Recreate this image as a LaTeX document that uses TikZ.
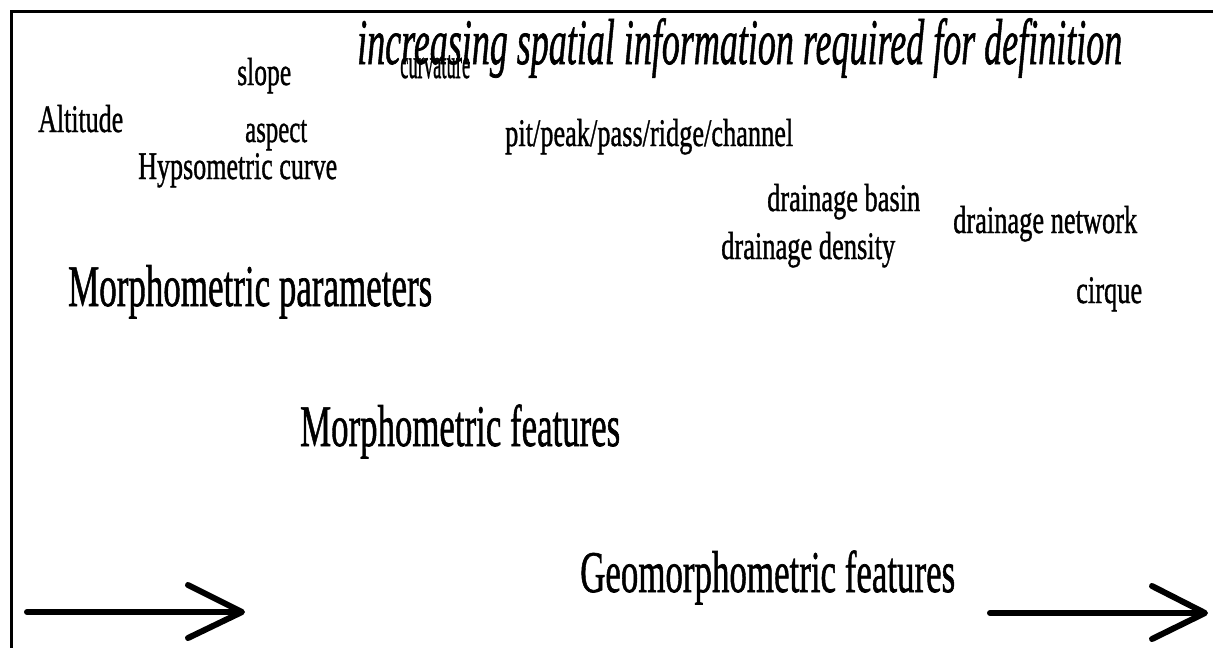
\documentclass[tikz,border=0pt]{standalone}
\usepackage{fontspec}
\setmainfont{Liberation Serif}[FakeBold=1.2]
\usepackage{graphicx}
\newcommand{\fitw}[2]{\resizebox{#1pt}{\height}{#2}}
\tikzset{
  lbl/.style={inner sep=0pt, anchor=base west, font=\fontsize{39}{39}\selectfont},
  big/.style={inner sep=0pt, anchor=base west, font=\fontsize{59}{59}\selectfont},
  ttl/.style={inner sep=0pt, anchor=base west, font=\itshape\fontsize{65}{65}\selectfont},
  frame/.style={line width=3pt},
  bigarrow/.style={line width=6pt, line cap=round, line join=round},
}
\begin{document}
\begin{tikzpicture}[x=1pt,y=1pt]
\useasboundingbox (0,0) rectangle (1213,-648);
\draw[frame] (11.5,-648) -- (11.5,-11) -- (1213,-11);
% title
\node[ttl] (title) at (357,-64) {\fitw{765}{increasing spatial information required for definition}};
% small labels
\node[lbl, font=\fontsize{43}{43}\selectfont] (curv) at (400,-78) {\fitw{70}{curvature}};
\node[lbl] (slope) at (237,-85) {\fitw{54}{slope}};
\node[lbl] (alt) at (38,-132) {\fitw{85}{Altitude}};
\node[lbl] (aspect) at (245,-142) {\fitw{62}{aspect}};
\node[lbl] (hyps) at (138,-179) {\fitw{199}{Hypsometric curve}};
\node[lbl] (pit) at (505,-146) {\fitw{288}{pit/peak/pass/ridge/channel}};
\node[lbl] (basin) at (767,-211) {\fitw{153}{drainage basin}};
\node[lbl] (network) at (953,-233) {\fitw{184}{drainage network}};
\node[lbl] (density) at (721,-259) {\fitw{174}{drainage density}};
\node[lbl] (cirque) at (1076,-303) {\fitw{66}{cirque}};
% big labels
\node[big] (mparam) at (68,-306) {\fitw{364}{Morphometric parameters}};
\node[big] (mfeat) at (300,-446) {\fitw{320}{Morphometric features}};
\node[big] (gfeat) at (580,-592) {\fitw{375}{Geomorphometric features}};
% arrows
\coordinate (la0) at (27,-612);
\coordinate (la1) at (240,-612);
\coordinate (lat) at (188,-585);
\coordinate (lab) at (188,-638);
\coordinate (lah) at (242,-612);
\draw[bigarrow] (la0) -- (la1);
\draw[bigarrow] (lat) -- (lah) -- (lab);
\coordinate (ra0) at (990,-613);
\coordinate (ra1) at (1203,-613);
\coordinate (rat) at (1152,-586);
\coordinate (rab) at (1152,-639);
\coordinate (rah) at (1205,-613);
\draw[bigarrow] (ra0) -- (ra1);
\draw[bigarrow] (rat) -- (rah) -- (rab);
\end{tikzpicture}
\end{document}
